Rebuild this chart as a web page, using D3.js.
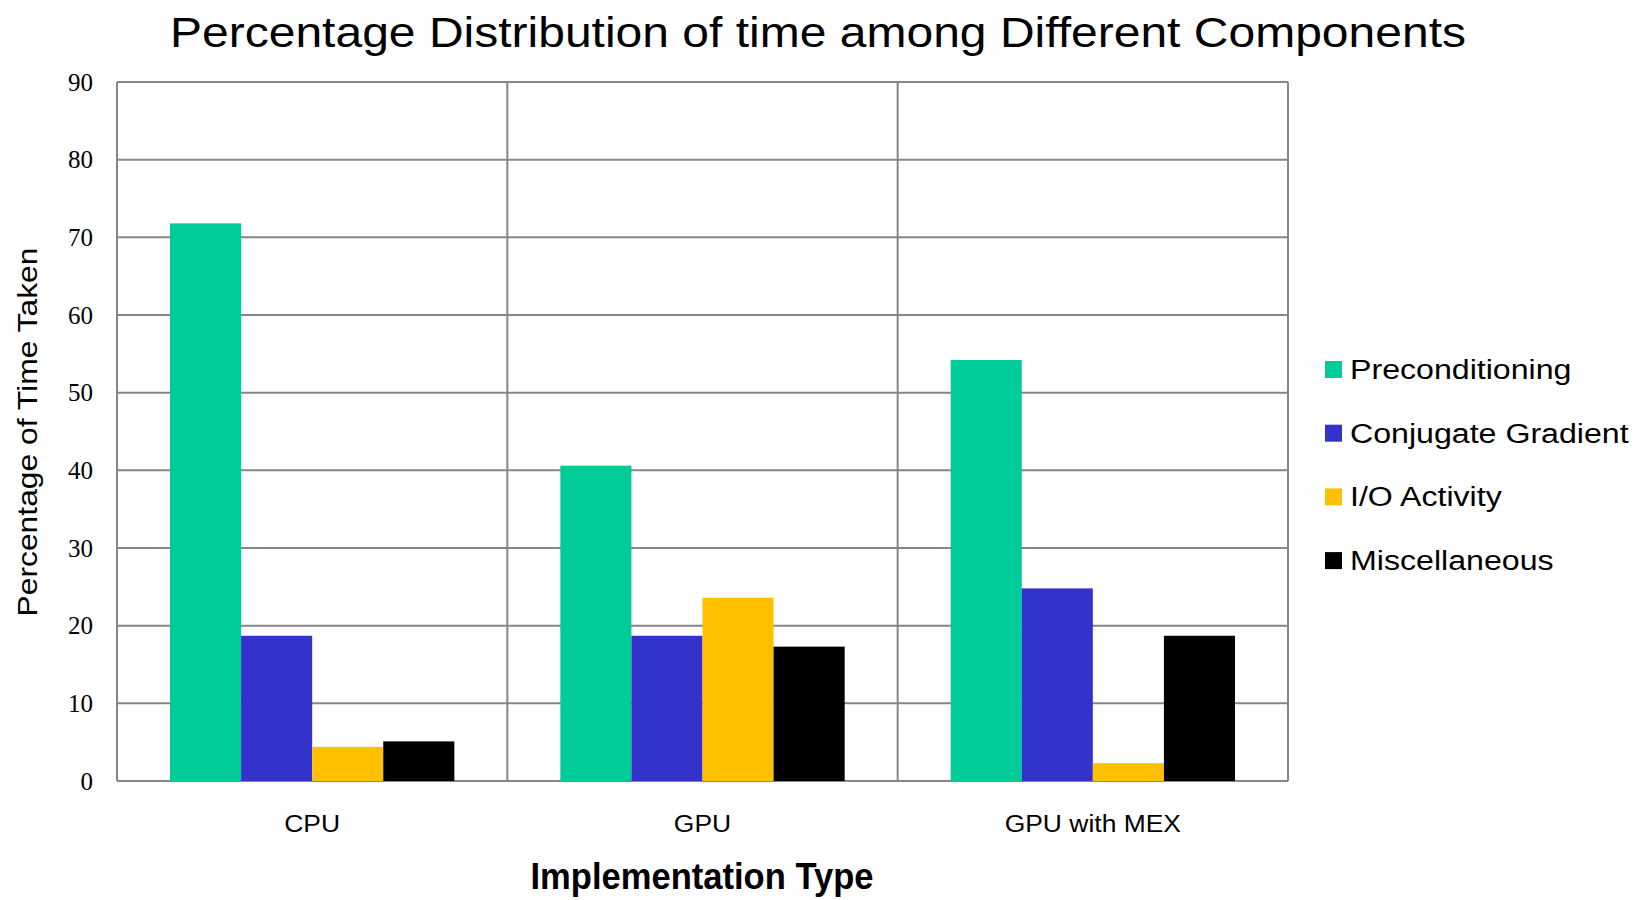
<!DOCTYPE html>
<html>
<head>
<meta charset="utf-8">
<script src="https://cdn.jsdelivr.net/npm/d3@7"></script>
<style>
  body { margin: 0; background: #fff; }
  svg { display: block; }
</style>
</head>
<body>
<svg id="chart" width="1638" height="900"></svg>
<script>
// données
const categories = ['CPU', 'GPU', 'GPU with MEX'];
const seriesNames = ['Preconditioning', 'Conjugate Gradient', 'I/O Activity', 'Miscellaneous'];
const preconditioning = [71.8, 40.6, 54.2];
const conjugateGradient = [18.7, 18.7, 24.8];
const ioActivity = [4.4, 23.6, 2.3];
const miscellaneous = [5.1, 17.3, 18.7];
const yTicks = [0, 10, 20, 30, 40, 50, 60, 70, 80, 90];
const colors = ['#00CC99', '#3333CC', '#FFC000', '#000000'];

const series = [preconditioning, conjugateGradient, ioActivity, miscellaneous];
const sans = '"Liberation Sans", Arial, sans-serif';

const svg = d3.select('#chart');
const margin = {left: 117, right: 350, top: 82, bottom: 119};
const width = 1638 - margin.left - margin.right,
      height = 900 - margin.top - margin.bottom;

const x0 = d3.scaleBand().domain(categories).range([0, width]).paddingInner(0).paddingOuter(0);
const x1 = d3.scaleBand().domain(seriesNames).range([53, x0.bandwidth() - 53]).padding(0);
const y = d3.scaleLinear().domain([0, 90]).range([height, 0]);

// étire un texte horizontalement (le rendu d'origine est plus large)
function stretch(sel, factor) {
    sel.each(function() {
        const len = this.getComputedTextLength();
        d3.select(this).attr('textLength', len * factor).attr('lengthAdjust', 'spacingAndGlyphs');
    });
}

const g = svg.append('g').attr('transform', `translate(${margin.left},${margin.top})`);

// grille horizontale
g.append('g').selectAll('line').data(yTicks).enter().append('line')
    .attr('x1', 0).attr('x2', width)
    .attr('y1', d => y(d)).attr('y2', d => y(d))
    .attr('stroke', '#868686').attr('stroke-width', 2);

// séparateurs verticaux
g.append('g').selectAll('line').data(d3.range(categories.length + 1)).enter().append('line')
    .attr('x1', i => i * x0.bandwidth()).attr('x2', i => i * x0.bandwidth())
    .attr('y1', 0).attr('y2', height)
    .attr('stroke', '#868686').attr('stroke-width', 2);

// barres
const groups = g.append('g').selectAll('g').data(categories).enter().append('g')
    .attr('transform', d => `translate(${x0(d)},0)`);
groups.selectAll('rect')
    .data((c, ci) => seriesNames.map((s, si) => ({s, si, v: series[si][ci]})))
    .enter().append('rect')
    .attr('x', d => x1(d.s))
    .attr('width', x1.bandwidth())
    .attr('y', d => y(d.v))
    .attr('height', d => y(0) - y(d.v))
    .attr('fill', d => colors[d.si]);

// axe Y (police à empattements comme l'original)
const yAxis = g.append('g').call(d3.axisLeft(y).tickValues(yTicks).tickSize(0).tickPadding(24));
yAxis.attr('font-family', null);
yAxis.select('.domain').remove();
yAxis.selectAll('text')
    .style('font-family', '"Liberation Serif", "Times New Roman", serif')
    .style('font-size', '25px').attr('fill', '#000');

// axe X
const xAxis = g.append('g').attr('transform', `translate(0,${height})`)
    .call(d3.axisBottom(x0).tickSize(0).tickPadding(35));
xAxis.select('.domain').remove();
xAxis.selectAll('text')
    .attr('font-family', sans)
    .attr('font-size', 23).attr('fill', '#000')
    .call(stretch, 1.15);

// titres
svg.append('text')
    .attr('x', 818).attr('y', 47)
    .attr('text-anchor', 'middle')
    .attr('font-family', sans)
    .attr('font-size', 42)
    .attr('textLength', 1296).attr('lengthAdjust', 'spacingAndGlyphs')
    .text('Percentage Distribution of time among Different Components');

svg.append('text')
    .attr('x', 702).attr('y', 889)
    .attr('text-anchor', 'middle')
    .attr('font-family', sans)
    .attr('font-size', 37).attr('font-weight', 'bold')
    .attr('textLength', 343).attr('lengthAdjust', 'spacingAndGlyphs')
    .text('Implementation  Type');

svg.append('text')
    .attr('transform', 'translate(37,432) rotate(-90)')
    .attr('text-anchor', 'middle')
    .attr('font-family', sans)
    .attr('font-size', 28)
    .attr('textLength', 369).attr('lengthAdjust', 'spacingAndGlyphs')
    .text('Percentage of Time Taken');

// légende
const legend = svg.append('g').attr('transform', 'translate(1325,369)');
const items = legend.selectAll('g').data(seriesNames).enter().append('g')
    .attr('transform', (d, i) => `translate(0,${i * 63.7})`);
items.append('rect')
    .attr('x', 0).attr('y', -8).attr('width', 17).attr('height', 17)
    .attr('fill', (d, i) => colors[i]);
items.append('text')
    .attr('x', 25).attr('y', 10)
    .attr('font-family', sans)
    .attr('font-size', 27)
    .text(d => d)
    .call(stretch, 1.19);
</script>
</body>
</html>
